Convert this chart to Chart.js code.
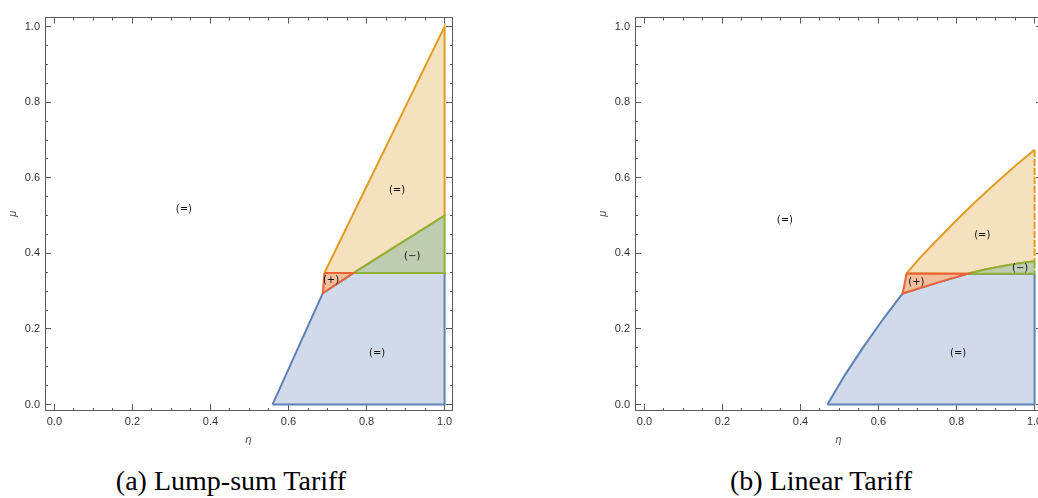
<!DOCTYPE html>
<html>
<head>
<meta charset="utf-8">
<script src="https://cdn.jsdelivr.net/npm/chart.js@4.4.1/dist/chart.umd.min.js"></script>
<style>
  html, body { margin: 0; padding: 0; background: #fff; overflow: hidden; }
  body { width: 1038px; height: 498px; position: relative; }
  canvas { position: absolute; top: 0; }
  #lump { left: 0; }
  #linear { left: 590px; }
  .caption { position: absolute; top: 466px; width: 462px; text-align: center;
             font-family: 'Liberation Serif', serif; font-size: 28px; color: #000; line-height: 30px; }
</style>
</head>
<body>
<canvas id="lump" width="590" height="460"></canvas>
<canvas id="linear" width="590" height="460"></canvas>
<div class="caption" style="left:0">(a) Lump-sum Tariff</div>
<div class="caption" style="left:590px">(b) Linear Tariff</div>
<script>
// axis ticks, same for both panels
const majorTicks = [0, 0.2, 0.4, 0.6, 0.8, 1.0];
const minorStep = 0.05;
const etaRange = [-0.024, 1.019];
const muRange = [-0.0144, 1.024];

// (a) Lump-sum Tariff, region outlines as [eta, mu]
const lumpBlue = [[0.559, 0], [0.688, 0.295], [0.766, 0.348], [1, 0.348], [1, 0], [0.559, 0]];
const lumpOrange = [[0.692, 0.348], [1, 1], [1, 0.5], [0.766, 0.348], [0.692, 0.348]];
const lumpGreen = [[0.766, 0.348], [1, 0.5], [1, 0.348], [0.766, 0.348]];
const lumpRed = [[0.692, 0.348], [0.766, 0.348], [0.688, 0.295], [0.692, 0.348]];
const lumpLabels = [['(=)', 0.332, 0.517], ['(=)', 0.878, 0.568], ['(\u2212)', 0.917, 0.391],
                    ['(+)', 0.709, 0.329], ['(=)', 0.827, 0.136]];

// (b) Linear Tariff
const linBlue = [[0.469, 0], [0.515, 0.080], [0.561, 0.152], [0.611, 0.225], [0.662, 0.294],
                 [0.749, 0.322], [0.828, 0.346], [1, 0.346], [1, 0], [0.469, 0]];
const linOrange = [[0.672, 0.347], [0.705, 0.387], [0.749, 0.434], [0.801, 0.489], [0.852, 0.540],
                   [0.903, 0.588], [0.955, 0.636], [1, 0.674], [1, 0.379], [0.956, 0.373],
                   [0.912, 0.3655], [0.870, 0.3565], [0.828, 0.346], [0.672, 0.347]];
const linGreen = [[0.828, 0.346], [0.870, 0.3565], [0.912, 0.3655], [0.956, 0.373], [1, 0.379],
                  [1, 0.346], [0.828, 0.346]];
const linRed = [[0.672, 0.347], [0.828, 0.346], [0.749, 0.322], [0.662, 0.294], [0.672, 0.347]];
const linLabels = [['(=)', 0.360, 0.486], ['(=)', 0.866, 0.447], ['(\u2212)', 0.963, 0.360],
                   ['(+)', 0.697, 0.324], ['(=)', 0.804, 0.136]];

const edge = { blue: '#5E81B5', orange: '#E19C24', green: '#8FB032', red: '#EB6235' };
const shade = { blue: 'rgb(208,218,234)', orange: 'rgb(246,225,190)', green: 'rgb(190,205,178)', red: 'rgb(243,190,155)' };
const frameColor = '#5a5a5a';

const allTicks = [];
for (let v = 0; v <= 1.0001; v += minorStep) allTicks.push(Math.round(v * 100) / 100);
const isMajor = v => majorTicks.some(m => Math.abs(m - v) < 1e-6);

// each region: a filled shape, then its outline drawn on top
function region(points, name, dashEdge) {
  const data = points.map(p => ({ x: p[0], y: p[1] }));
  const outline = {
    data,
    showLine: true,
    fill: false,
    pointRadius: 0,
    borderWidth: 2,
    tension: 0,
    borderColor: edge[name],
    segment: {
      borderDash: c => (dashEdge && c.p0.parsed.x === 1 && c.p1.parsed.x === 1) ? [5, 4] : undefined
    }
  };
  const area = {
    data,
    showLine: true,
    fill: 'shape',
    pointRadius: 0,
    borderWidth: 0,
    borderColor: 'rgba(0,0,0,0)',
    backgroundColor: shade[name]
  };
  return [outline, area];
}

function axis(pos, range, size, label) {
  const vertical = pos === 'left' || pos === 'right';
  // minor ticks keep only the 3px next to the frame
  const minorDash = (pos === 'left' || pos === 'top') ? [0, 3, 3, 100] : [3, 100];
  return {
    type: 'linear',
    position: pos,
    min: range[0],
    max: range[1],
    afterBuildTicks: a => { a.ticks = allTicks.map(v => ({ value: v })); },
    afterFit: a => { if (vertical) a.width = size; else a.height = size; },
    grid: {
      drawOnChartArea: false,
      drawTicks: true,
      tickLength: -6,
      tickColor: frameColor,
      tickWidth: 1,
      tickBorderDash: c => isMajor(c.tick.value) ? [] : minorDash
    },
    border: { display: true, color: frameColor, width: 1 },
    ticks: {
      display: !!label,
      padding: 11,
      color: '#333',
      autoSkip: false,
      maxRotation: 0,
      font: { family: 'Liberation Sans', size: 11 },
      callback: v => isMajor(v) ? v.toFixed(1) : ''
    },
    title: {
      display: !!label,
      text: label || '',
      color: '#555',
      font: { family: 'Liberation Sans', size: 11, style: 'italic' },
      padding: vertical ? { top: 6, bottom: 0 } : { top: 0, bottom: 13 }
    }
  };
}

const regionText = {
  id: 'regionText',
  afterDatasetsDraw(chart, args, opts) {
    const { ctx, scales: { x, y } } = chart;
    ctx.save();
    ctx.font = '10px "DejaVu Sans"';
    ctx.fillStyle = '#111';
    ctx.textAlign = 'center';
    ctx.textBaseline = 'middle';
    opts.items.forEach(([t, vx, vy]) => ctx.fillText(t, x.getPixelForValue(vx), y.getPixelForValue(vy)));
    ctx.restore();
  }
};

function panel(id, blue, orange, green, red, labels, dashEdge) {
  new Chart(document.getElementById(id), {
    type: 'line',
    data: {
      datasets: [
        ...region(red, 'red', dashEdge),
        ...region(green, 'green', dashEdge),
        ...region(orange, 'orange', dashEdge),
        ...region(blue, 'blue', dashEdge)
      ]
    },
    options: {
      responsive: false,
      animation: false,
      devicePixelRatio: 1,
      layout: { padding: 0 },
      plugins: { legend: { display: false }, tooltip: { enabled: false }, regionText: { items: labels } },
      scales: {
        x: axis('bottom', etaRange, 50, '\u03b7'),
        x2: axis('top', etaRange, 5, null),
        y: axis('left', muRange, 45, '\u03bc'),
        y2: axis('right', muRange, 138, null)
      }
    },
    plugins: [regionText]
  });
}

panel('lump', lumpBlue, lumpOrange, lumpGreen, lumpRed, lumpLabels, false);
panel('linear', linBlue, linOrange, linGreen, linRed, linLabels, true);
</script>
</body>
</html>
